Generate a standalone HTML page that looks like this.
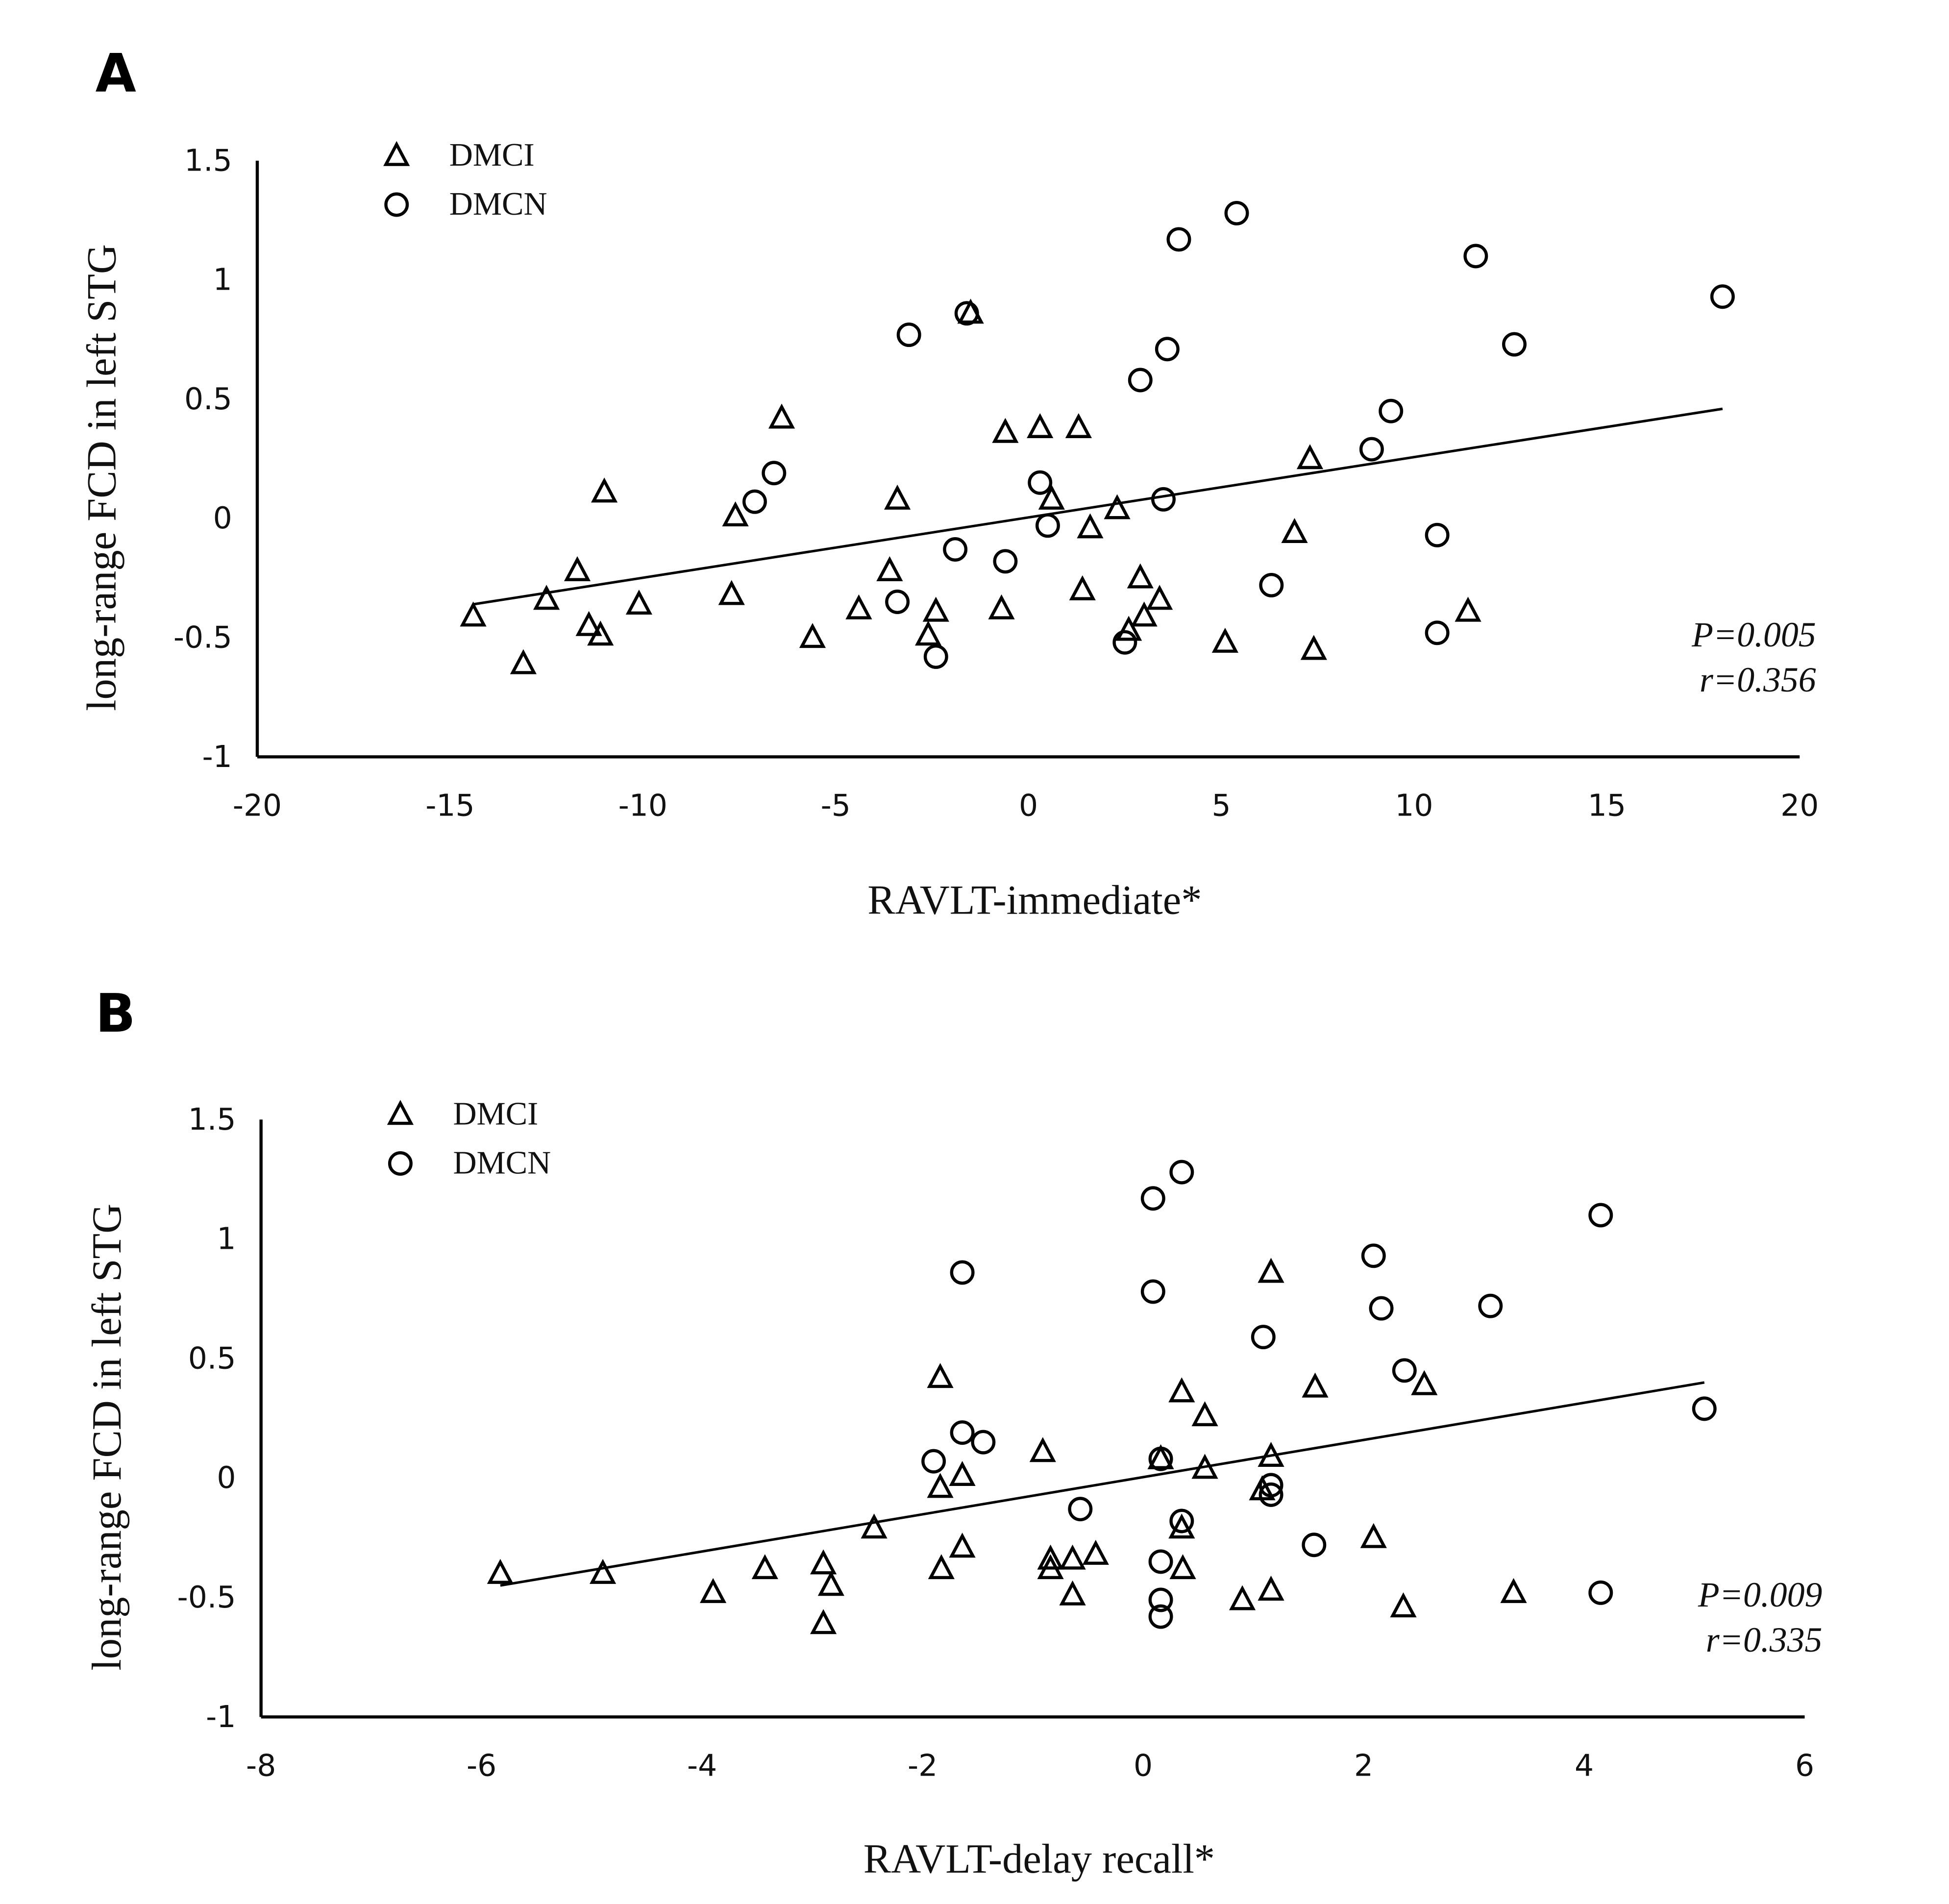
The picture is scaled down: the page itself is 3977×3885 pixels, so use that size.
<!DOCTYPE html>
<html><head><meta charset="utf-8">
<style>
html,body{margin:0;padding:0;background:#fff;}
svg{display:block;}
.tick{font-family:"DejaVu Sans","Liberation Sans",sans-serif;font-size:24px;fill:#111;}
.title{font-family:"Liberation Serif",serif;font-size:33px;fill:#111;}
.leg{font-family:"Liberation Serif",serif;font-size:26px;fill:#111;}
.stat{font-family:"Liberation Serif",serif;font-size:28px;font-style:italic;fill:#111;}
.panel{font-family:"DejaVu Sans","Liberation Sans",sans-serif;font-size:42px;font-weight:bold;fill:#000;}
</style></head>
<body>
<svg id="chart" width="3977" height="3885" viewBox="0 0 1553 1517" xmlns="http://www.w3.org/2000/svg">
<rect width="1553" height="1517" fill="#fff"/>
</svg>
<script>
// Panel A data
const triAx=[-14.4,-13.1,-12.5,-11.7,-11.4,-11.1,-11.0,-10.1,-7.7,-7.6,-6.4,-5.6,-4.4,-3.6,-3.4,-2.6,-2.4,-1.5,-0.7,-0.6,0.3,0.6,1.3,1.4,1.6,2.3,2.6,2.9,3.0,3.4,5.1,6.9,7.3,7.4,11.4];
const triAy=[-0.41,-0.61,-0.34,-0.22,-0.45,-0.49,0.11,-0.36,-0.32,0.01,0.42,-0.50,-0.38,-0.22,0.08,-0.49,-0.39,0.86,-0.38,0.36,0.38,0.08,0.38,-0.30,-0.04,0.04,-0.47,-0.25,-0.41,-0.34,-0.52,-0.06,0.25,-0.55,-0.39];
const cirAx=[-7.1,-6.6,-3.4,-3.1,-2.4,-1.9,-1.6,-0.6,0.3,0.5,2.5,2.9,3.5,3.6,3.9,5.4,6.3,8.9,9.4,10.6,10.6,11.6,12.6,18.0];
const cirAy=[0.07,0.19,-0.35,0.77,-0.58,-0.13,0.86,-0.18,0.15,-0.03,-0.52,0.58,0.08,0.71,1.17,1.28,-0.28,0.29,0.45,-0.07,-0.48,1.10,0.73,0.93];
const fitA=[0.004,0.0253];
const fitRangeA=[-14.4,18];
const xTicksA=[-20,-15,-10,-5,0,5,10,15,20];
const yTicks=[-1,-0.5,0,0.5,1,1.5];
// Panel B data
const triBx=[-5.83,-4.9,-3.9,-3.43,-2.9,-2.9,-2.83,-2.44,-1.84,-1.84,-1.83,-1.64,-1.64,-0.91,-0.84,-0.84,-0.64,-0.64,-0.43,0.16,0.35,0.35,0.36,0.56,0.56,0.9,1.08,1.16,1.16,1.16,1.56,2.09,2.36,2.55,3.36];
const triBy=[-0.40,-0.40,-0.48,-0.38,-0.36,-0.61,-0.45,-0.21,0.42,-0.04,-0.38,0.01,-0.29,0.11,-0.34,-0.38,-0.34,-0.49,-0.32,0.08,0.36,-0.21,-0.38,0.26,0.04,-0.51,-0.05,0.86,0.09,-0.47,0.38,-0.25,-0.54,0.39,-0.48];
const cirBx=[-1.9,-1.64,-1.64,-1.45,-0.57,0.09,0.09,0.16,0.16,0.16,0.16,0.35,0.35,1.09,1.16,1.16,1.55,2.09,2.16,2.37,3.15,4.15,4.15,5.09];
const cirBy=[0.07,0.86,0.19,0.15,-0.13,1.17,0.78,0.08,-0.35,-0.51,-0.58,1.28,-0.18,0.59,-0.03,-0.07,-0.28,0.93,0.71,0.45,0.72,1.10,-0.48,0.29];
const fitB=[0.0036,0.0778];
const fitRangeB=[-5.83,5.09];
const xTicksB=[-8,-6,-4,-2,0,2,4,6];

const NS="http://www.w3.org/2000/svg";
const svg=document.getElementById('chart');
function mk(tag,attrs,parent,text){const e=document.createElementNS(NS,tag);for(const k in attrs)e.setAttribute(k,attrs[k]);if(text!==undefined)e.textContent=text;(parent||svg).appendChild(e);return e;}

function panel(cfg){
  const g=mk('g',{});
  
  
  const sx=v=>cfg.x0+(v-cfg.xmin)/(cfg.xmax-cfg.xmin)*(cfg.x1-cfg.x0);
  const sy=v=>cfg.y0-(v-cfg.ymin)/(cfg.ymax-cfg.ymin)*(cfg.y0-cfg.y1);
  const pl=mk('text',{x:cfg.letterX,y:cfg.letterY,class:'panel'},g,cfg.letter);
  
  
  const ya=mk('line',{x1:cfg.x0,y1:cfg.y1,x2:cfg.x0,y2:cfg.y0,stroke:'#000','stroke-width':2.5},g);
  
  
  const xa=mk('line',{x1:cfg.x0,y1:cfg.y0,x2:cfg.x1,y2:cfg.y0,stroke:'#000','stroke-width':2.5},g);
  
  
  yTicks.forEach(v=>{
    const t=mk('text',{x:cfg.x0-20,y:sy(v)+8,'text-anchor':'end',class:'tick'},g,String(v));
    
    
  });
  cfg.xTicks.forEach(v=>{
    const t=mk('text',{x:sx(v),y:cfg.y0+47,'text-anchor':'middle',class:'tick'},g,String(v));
    
    
  });
  const yt=mk('text',{x:0,y:0,'text-anchor':'middle',class:'title',transform:`translate(${cfg.yTitleX},${(cfg.y0+cfg.y1)/2+15}) rotate(-90)`},g,'long-range FCD in left STG');
  
  
  const xt=mk('text',{x:(cfg.x0+cfg.x1)/2+5,y:cfg.xTitleY,'text-anchor':'middle',class:'title'},g,cfg.xTitle);
  
  
  const fl=mk('line',{x1:sx(cfg.fr[0]),y1:sy(cfg.fit[0]+cfg.fit[1]*cfg.fr[0]),x2:sx(cfg.fr[1]),y2:sy(cfg.fit[0]+cfg.fit[1]*cfg.fr[1]),stroke:'#000','stroke-width':2},g);
  
  
  const tri=(cx,cy)=>`${cx},${cy-9} ${cx-8.5},${cy+7} ${cx+8.5},${cy+7}`;
  cfg.tx.forEach((v,i)=>{
    const p=mk('polygon',{points:tri(sx(v),sy(cfg.ty[i])),fill:'none',stroke:'#000','stroke-width':2.5},g);
    
    
  });
  cfg.cx.forEach((v,i)=>{
    const c=mk('circle',{cx:sx(v),cy:sy(cfg.cy[i]),r:8.5,fill:'none',stroke:'#000','stroke-width':2.5},g);
    
    
  });
  const lt=mk('polygon',{points:tri(cfg.legX,cfg.legY),fill:'none',stroke:'#000','stroke-width':2.5},g);
  
  
  const ltt=mk('text',{x:cfg.legX+42,y:cfg.legY+8,class:'leg'},g,'DMCI');
  
  
  const lc=mk('circle',{cx:cfg.legX,cy:cfg.legY+39,r:8.5,fill:'none',stroke:'#000','stroke-width':2.5},g);
  
  
  const lct=mk('text',{x:cfg.legX+42,y:cfg.legY+47,class:'leg'},g,'DMCN');
  
  
  const s1=mk('text',{x:cfg.statX,y:cfg.statY,'text-anchor':'end',class:'stat'},g,cfg.p);
  
  
  const s2=mk('text',{x:cfg.statX,y:cfg.statY+36,'text-anchor':'end',class:'stat'},g,cfg.r);
  
  
}
panel({name:'panel-a',letter:'A',letterX:76,letterY:73,x0:205,x1:1434,y0:603,y1:128,xmin:-20,xmax:20,ymin:-1,ymax:1.5,
  xTicks:xTicksA,yTitleX:92,xTitleY:728,xTitle:'RAVLT-immediate*',fit:fitA,fr:fitRangeA,
  tx:triAx,ty:triAy,cx:cirAx,cy:cirAy,legX:316,legY:124,statX:1447,statY:515,p:'P=0.005',r:'r=0.356'});
panel({name:'panel-b',letter:'B',letterX:76,letterY:822,x0:208,x1:1438,y0:1368,y1:892,xmin:-8,xmax:6,ymin:-1,ymax:1.5,
  xTicks:xTicksB,yTitleX:96,xTitleY:1492,xTitle:'RAVLT-delay recall*',fit:fitB,fr:fitRangeB,
  tx:triBx,ty:triBy,cx:cirBx,cy:cirBy,legX:319,legY:888,statX:1452,statY:1280,p:'P=0.009',r:'r=0.335'});
</script>
</body></html>
